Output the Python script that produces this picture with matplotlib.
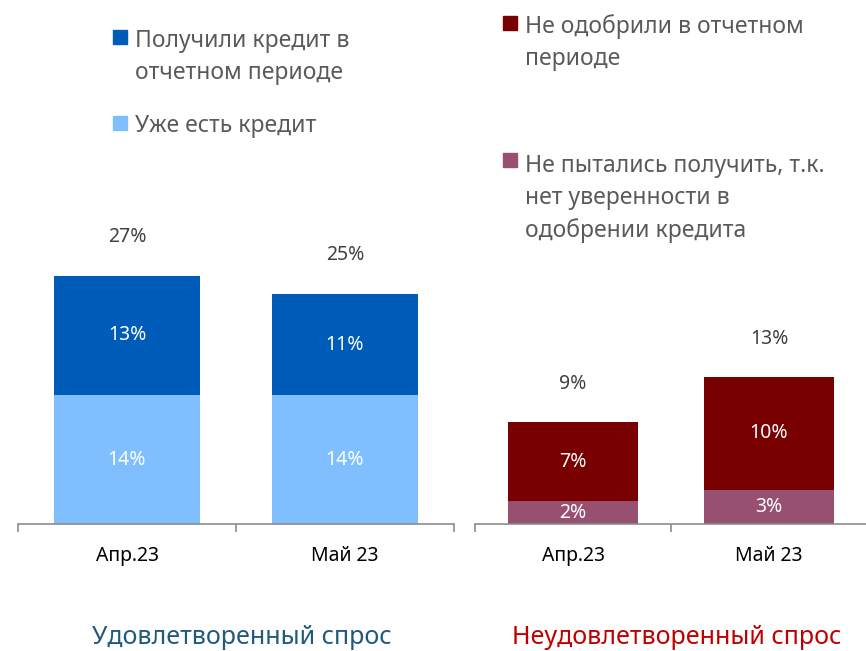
import matplotlib.pyplot as plt
from matplotlib.patches import Rectangle
import numpy as np

plt.rcParams['font.family'] = ['Noto Sans', 'DejaVu Sans']

# данные
periods = ['Апр.23', 'Май 23']

sat_names = ['Уже есть кредит', 'Получили кредит в\nотчетном периоде']
sat_have = [14, 14]
sat_got = [13, 11]
sat_total = [27, 25]

unsat_names = ['Не пытались получить, т.к.\nнет уверенности в\nодобрении кредита',
               'Не одобрили в отчетном\nпериоде']
unsat_notry = [2, 3]
unsat_denied = [7, 10]
unsat_total = [9, 13]

c_dark_blue = '#005CB9'
c_light_blue = '#7FBFFF'
c_dark_red = '#780000'
c_mauve = '#985070'
c_text = '#595959'

fig = plt.figure(figsize=(8.66, 6.51), dpi=100)
W, H = 866, 651


def fx(px):
    return px / W


def fy(py):
    return 1 - py / H


ax1 = fig.add_axes([fx(18), fy(524), fx(454) - fx(18), 0.636])
ax2 = fig.add_axes([fx(475), fy(524), fx(867) - fx(475), 0.636])


def draw(ax, bottom_vals, top_vals, totals, colors, ymax, offset, width):
    x = np.arange(len(periods))
    ax.bar(x, bottom_vals, width=width, color=colors[0], edgecolor='none')
    ax.bar(x, top_vals, bottom=bottom_vals, width=width, color=colors[1], edgecolor='none')
    for i in range(len(x)):
        ax.text(x[i], bottom_vals[i] / 2, f'{bottom_vals[i]}%', ha='center', va='center',
                color='white', fontsize=14)
        ax.text(x[i], bottom_vals[i] + top_vals[i] / 2, f'{top_vals[i]}%', ha='center',
                va='center', color='white', fontsize=14)
        ax.text(x[i], totals[i] + offset, f'{totals[i]}%', ha='center', va='center',
                color='#404040', fontsize=14)
    ax.set_xlim(-0.5, len(x) - 0.5)
    ax.set_ylim(0, ymax)
    for s in ['top', 'left', 'right']:
        ax.spines[s].set_visible(False)
    ax.spines['bottom'].set_color('#8C8C8C')
    ax.spines['bottom'].set_linewidth(1.2)
    ax.set_yticks([])
    ax.set_xticks(x)
    ax.set_xticklabels(periods, fontsize=14, color='black')
    ax.tick_params(axis='x', which='major', length=0, pad=16)
    ax.set_xticks(np.arange(len(x) + 1) - 0.5, minor=True)
    ax.tick_params(axis='x', which='minor', length=6, width=1.2, color='#8C8C8C')


draw(ax1, sat_have, sat_got, sat_total, [c_light_blue, c_dark_blue], 45, 4.2, 0.67)
draw(ax2, unsat_notry, unsat_denied, unsat_total, [c_mauve, c_dark_red], 36.5, 3.3, 0.66)


def legend_item(x, y_sq, y_txt, color, label):
    fig.add_artist(Rectangle((fx(x), fy(y_sq + 7)), fx(14), 14 / H, color=color,
                             transform=fig.transFigure))
    fig.text(fx(x + 22), fy(y_txt - 11), label, ha='left', va='top', fontsize=16.5,
             color=c_text, linespacing=1.45)


legend_item(113, 37, 40, c_dark_blue, sat_names[1])
legend_item(113, 123, 125, c_light_blue, sat_names[0])
legend_item(503, 23, 25, c_dark_red, unsat_names[1])
legend_item(503, 160, 165, c_mauve, unsat_names[0])

fig.text(fx(242), fy(637), 'Удовлетворенный спрос', ha='center', va='center',
         fontsize=18, color='#1F5A7E')
fig.text(fx(677), fy(637), 'Неудовлетворенный спрос', ha='center', va='center',
         fontsize=18, color='#C00000')

fig.savefig('out.png', dpi=100)
